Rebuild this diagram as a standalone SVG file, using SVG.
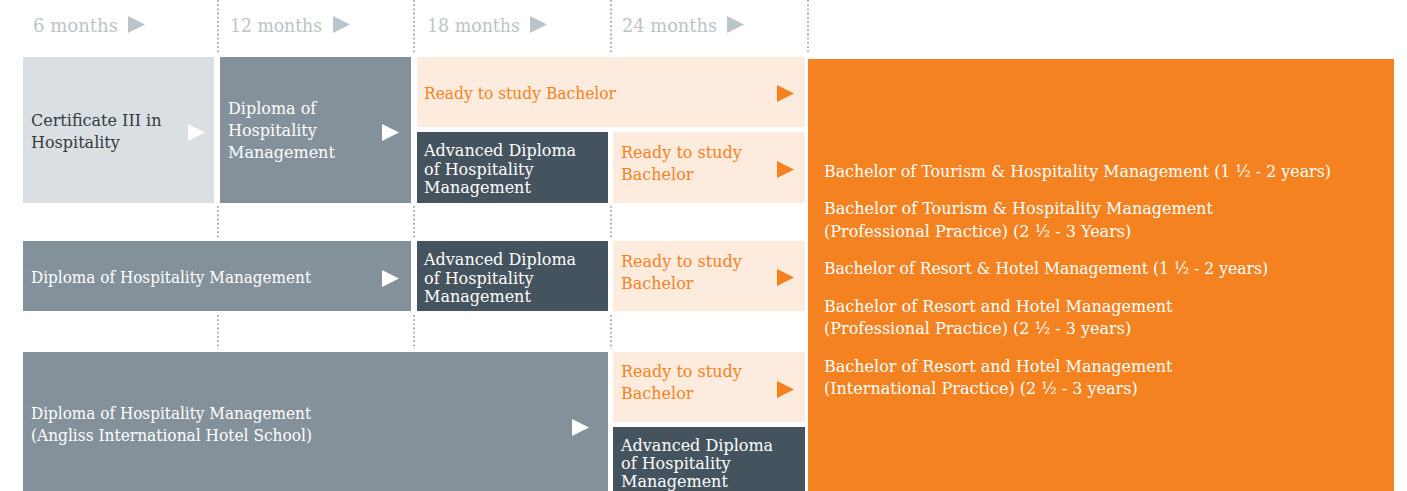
<svg xmlns="http://www.w3.org/2000/svg" xmlns:xlink="http://www.w3.org/1999/xlink" width="1407" height="491" viewBox="0 0 1407 491">
<style>
text{font-family:"DejaVu Serif","Liberation Serif",serif;font-size:16px}
.hd{font-size:18px;fill:#b9c5c8}
.cert{fill:#d9dfe2}
.dip{fill:#84919b}
.adv{fill:#45535e}
.rdy{fill:#fdebdd}
.bach{fill:#f48221}
.td{fill:#333b40}
.tw{fill:#ffffff}
.to{fill:#f5821f}
.dot{stroke:#a6b1b8;stroke-width:2;stroke-dasharray:1.8 2.4;fill:none}
</style>
<defs>
<path id="tri" d="M0,0 L17,8.5 L0,17 Z"/>
</defs>
<rect width="1407" height="491" fill="#ffffff"/>
<g id="grid">
<line class="dot" x1="218" y1="0" x2="218" y2="53"/>
<line class="dot" x1="414" y1="0" x2="414" y2="53"/>
<line class="dot" x1="611" y1="0" x2="611" y2="53"/>
<line class="dot" x1="808" y1="0" x2="808" y2="53"/>
<line class="dot" x1="218" y1="206" x2="218" y2="238"/>
<line class="dot" x1="414" y1="206" x2="414" y2="238"/>
<line class="dot" x1="611" y1="206" x2="611" y2="238"/>
<line class="dot" x1="218" y1="315" x2="218" y2="349"/>
<line class="dot" x1="414" y1="315" x2="414" y2="349"/>
<line class="dot" x1="611" y1="315" x2="611" y2="349"/>
</g>
<g id="header">
<text class="hd" x="33" y="32" textLength="85" lengthAdjust="spacingAndGlyphs">6 months</text>
<text class="hd" x="230" y="32" textLength="92" lengthAdjust="spacingAndGlyphs">12 months</text>
<text class="hd" x="427" y="32" textLength="93" lengthAdjust="spacingAndGlyphs">18 months</text>
<text class="hd" x="622" y="32" textLength="95" lengthAdjust="spacingAndGlyphs">24 months</text>
</g>
<g id="cert3">
<rect class="cert" x="23" y="57" width="191" height="146"/>
<text class="td" x="31" y="126">Certificate III in</text>
<text class="td" x="31" y="148">Hospitality</text>
</g>
<g id="dip1">
<rect class="dip" x="220" y="57" width="191" height="146"/>
<text class="tw" x="228" y="114">Diploma of</text>
<text class="tw" x="228" y="136">Hospitality</text>
<text class="tw" x="228" y="158">Management</text>
</g>
<g id="ready1">
<rect class="rdy" x="417" y="57" width="388" height="70"/>
<text class="to" x="424" y="99" textLength="192" lengthAdjust="spacingAndGlyphs">Ready to study Bachelor</text>
</g>
<g id="adv1">
<rect class="adv" x="417" y="132" width="191" height="71"/>
<text class="tw" x="424" y="156">Advanced Diploma</text>
<text class="tw" x="424" y="175">of Hospitality</text>
<text class="tw" x="424" y="193">Management</text>
</g>
<g id="ready2">
<rect class="rdy" x="613" y="132" width="192" height="71"/>
<text class="to" x="621" y="158">Ready to study</text>
<text class="to" x="621" y="180">Bachelor</text>
</g>
<g id="dip2">
<rect class="dip" x="23" y="241" width="388" height="70"/>
<text class="tw" x="31" y="283" textLength="280" lengthAdjust="spacingAndGlyphs">Diploma of Hospitality Management</text>
</g>
<g id="adv2">
<rect class="adv" x="417" y="241" width="191" height="70"/>
<text class="tw" x="424" y="265">Advanced Diploma</text>
<text class="tw" x="424" y="284">of Hospitality</text>
<text class="tw" x="424" y="302">Management</text>
</g>
<g id="ready3">
<rect class="rdy" x="613" y="241" width="192" height="70"/>
<text class="to" x="621" y="267">Ready to study</text>
<text class="to" x="621" y="289">Bachelor</text>
</g>
<g id="dip3">
<rect class="dip" x="23" y="352" width="585" height="139"/>
<text class="tw" x="31" y="419" textLength="280" lengthAdjust="spacingAndGlyphs">Diploma of Hospitality Management</text>
<text class="tw" x="31" y="441" textLength="281" lengthAdjust="spacingAndGlyphs">(Angliss International Hotel School)</text>
</g>
<g id="ready4">
<rect class="rdy" x="613" y="352" width="192" height="70"/>
<text class="to" x="621" y="377">Ready to study</text>
<text class="to" x="621" y="399">Bachelor</text>
</g>
<g id="adv3">
<rect class="adv" x="613" y="427" width="192" height="64"/>
<text class="tw" x="621" y="451">Advanced Diploma</text>
<text class="tw" x="621" y="469">of Hospitality</text>
<text class="tw" x="621" y="487">Management</text>
</g>
<g id="bachelor">
<rect class="bach" x="808" y="59" width="586" height="432"/>
<text class="tw" x="824" y="177" textLength="507" lengthAdjust="spacingAndGlyphs">Bachelor of Tourism &amp; Hospitality Management (1 ½ - 2 years)</text>
<text class="tw" x="824" y="214">Bachelor of Tourism &amp; Hospitality Management</text>
<text class="tw" x="824" y="237">(Professional Practice) (2 ½ - 3 Years)</text>
<text class="tw" x="824" y="274" textLength="444" lengthAdjust="spacingAndGlyphs">Bachelor of Resort &amp; Hotel Management (1 ½ - 2 years)</text>
<text class="tw" x="824" y="312">Bachelor of Resort and Hotel Management</text>
<text class="tw" x="824" y="334">(Professional Practice) (2 ½ - 3 years)</text>
<text class="tw" x="824" y="372">Bachelor of Resort and Hotel Management</text>
<text class="tw" x="824" y="394">(International Practice) (2 ½ - 3 years)</text>
</g>
<g id="connectors">
<use xlink:href="#tri" x="128" y="16" fill="#b9c5c8"/>
<use xlink:href="#tri" x="333" y="16" fill="#b9c5c8"/>
<use xlink:href="#tri" x="530" y="16" fill="#b9c5c8"/>
<use xlink:href="#tri" x="727" y="16" fill="#b9c5c8"/>
<use xlink:href="#tri" x="188" y="124" fill="#ffffff"/>
<use xlink:href="#tri" x="382" y="124" fill="#ffffff"/>
<use xlink:href="#tri" x="777" y="85" fill="#f5821f"/>
<use xlink:href="#tri" x="777" y="161" fill="#f5821f"/>
<use xlink:href="#tri" x="382" y="270" fill="#ffffff"/>
<use xlink:href="#tri" x="777" y="269" fill="#f5821f"/>
<use xlink:href="#tri" x="572" y="419" fill="#ffffff"/>
<use xlink:href="#tri" x="777" y="381" fill="#f5821f"/>
</g>
</svg>
